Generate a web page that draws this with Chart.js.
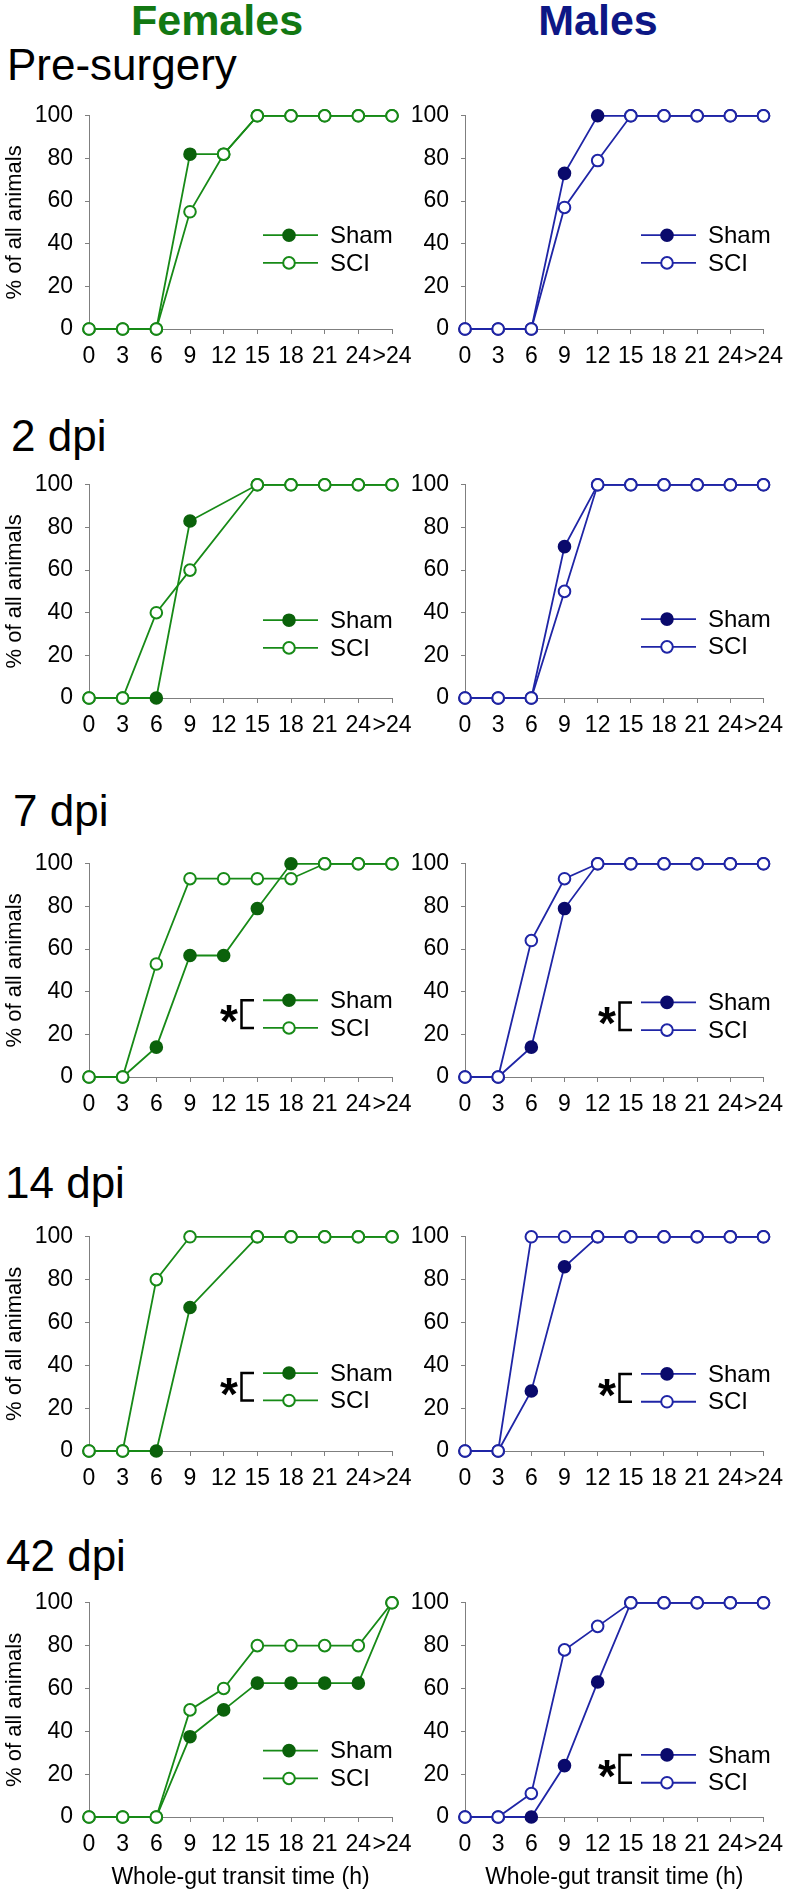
<!DOCTYPE html>
<html>
<head>
<meta charset="utf-8">
<script src="https://cdn.jsdelivr.net/npm/chart.js@4.4.1/dist/chart.umd.min.js"></script>
<style>
body { margin:0; background:#fff; width:792px; height:1894px; position:relative; overflow:hidden;
  font-family:"Liberation Sans", Arial, sans-serif; }
.head { position:absolute; top:-1px; font-size:43px; line-height:43px; font-weight:bold; white-space:nowrap; transform:translateX(-50%); }
.tp { position:absolute; font-size:44px; line-height:44px; color:#000; white-space:nowrap; }
canvas { position:absolute; }
</style>
</head>
<body>
<div class="head" style="left:217px;color:#127812">Females</div>
<div class="head" style="left:598px;color:#0d1785">Males</div>
<div id="titles"></div>

<script>
// x categories and y ticks
var hours = ['0', '3', '6', '9', '12', '15', '18', '21', '24', '>24'];
var yTicks = [0, 20, 40, 60, 80, 100];
var timepoints = ['Pre-surgery', '2 dpi', '7 dpi', '14 dpi', '42 dpi'];

// % of all animals, one row per timepoint (null = no reading at that hour)
var femaleSham = [
  [0, 0, 0, 82, 82, 100, 100, 100, 100, 100],
  [0, 0, 0, 83, null, 100, 100, 100, 100, 100],
  [0, 0, 14, 57, 57, 79, 100, 100, 100, 100],
  [0, 0, 0, 67, null, 100, 100, 100, 100, 100],
  [0, 0, 0, 37.5, 50, 62.5, 62.5, 62.5, 62.5, 100]
];
var femaleSCI = [
  [0, 0, 0, 55, 82, 100, 100, 100, 100, 100],
  [0, 0, 40, 60, null, 100, 100, 100, 100, 100],
  [0, 0, 53, 93, 93, 93, 93, 100, 100, 100],
  [0, 0, 80, 100, null, 100, 100, 100, 100, 100],
  [0, 0, 0, 50, 60, 80, 80, 80, 80, 100]
];
var maleSham = [
  [0, 0, 0, 73, 100, 100, 100, 100, 100, 100],
  [0, 0, 0, 71, 100, 100, 100, 100, 100, 100],
  [0, 0, 14, 79, 100, 100, 100, 100, 100, 100],
  [0, 0, 28, 86, 100, 100, 100, 100, 100, 100],
  [0, 0, 0, 24, 63, 100, 100, 100, 100, 100]
];
var maleSCI = [
  [0, 0, 0, 57, 79, 100, 100, 100, 100, 100],
  [0, 0, 0, 50, 100, 100, 100, 100, 100, 100],
  [0, 0, 64, 93, 100, 100, 100, 100, 100, 100],
  [0, 0, 100, 100, 100, 100, 100, 100, 100, 100],
  [0, 0, 11, 78, 89, 100, 100, 100, 100, 100]
];
var femaleSig = [false, false, true, true, false];
var maleSig = [false, false, true, true, true];

// layout (pixels)
var plotTop = [110, 479, 858, 1231, 1597];
var plotH = [219, 219, 219, 220, 220];
var titleTop = [43, 414, 789, 1161, 1534];
var titleLeft = [7, 11, 13, 5, 6];
var legendFem = [[0.44, 0.31], [0.365, 0.235], [0.36, 0.23], [0.364, 0.236], [0.31, 0.18]];
var legendMale = [[0.44, 0.31], [0.37, 0.24], [0.35, 0.22], [0.36, 0.23], [0.29, 0.16]];

var FONT = '"Liberation Sans", Arial, sans-serif';
Chart.defaults.font.family = FONT;
Chart.defaults.color = '#000';

var green = { line: '#178a17', dark: '#0b620b' };
var blue = { line: '#1f25a6', dark: '#0a0a6c' };
var axisCol = '#7f7f7f';

var legendPlugin = {
  id: 'miniLegend',
  afterDatasetsDraw: function(chart, args, o) {
    var ctx = chart.ctx, a = chart.chartArea;
    var h = a.bottom - a.top;
    var x0 = a.left + o.dx;
    var ys = a.bottom - o.pos[0] * h, yc = a.bottom - o.pos[1] * h;
    ctx.save();
    [[ys, o.col.dark, o.col.dark, 'Sham'], [yc, '#fff', o.col.line, 'SCI']].forEach(function(r) {
      ctx.strokeStyle = o.col.line;
      ctx.lineWidth = 1.8;
      ctx.beginPath(); ctx.moveTo(x0, r[0]); ctx.lineTo(x0 + 55, r[0]); ctx.stroke();
      ctx.beginPath(); ctx.arc(x0 + 26, r[0], 5.8, 0, Math.PI * 2);
      ctx.fillStyle = r[1]; ctx.fill();
      ctx.lineWidth = 2; ctx.strokeStyle = r[2]; ctx.stroke();
      ctx.fillStyle = '#000';
      ctx.font = '24px ' + FONT;
      ctx.textBaseline = 'middle';
      ctx.textAlign = 'left';
      ctx.fillText(r[3], x0 + 67, r[0] + 1);
    });
    if (o.star) {
      // bracket
      ctx.strokeStyle = '#000';
      ctx.lineWidth = 2.5;
      ctx.beginPath();
      ctx.moveTo(x0 - 9, ys); ctx.lineTo(x0 - 21.5, ys);
      ctx.lineTo(x0 - 21.5, yc); ctx.lineTo(x0 - 9, yc);
      ctx.stroke();
      // asterisk
      ctx.font = 'bold 46px ' + FONT;
      ctx.textBaseline = 'alphabetic';
      ctx.textAlign = 'center';
      var m = ctx.measureText('*');
      ctx.fillText('*', x0 - 34, (ys + yc) / 2 + m.actualBoundingBoxAscent - (m.actualBoundingBoxAscent + m.actualBoundingBoxDescent) / 2);
    }
    ctx.restore();
  }
};

function panel(row, isMale) {
  var col = isMale ? blue : green;
  var sham = isMale ? maleSham[row] : femaleSham[row];
  var sci = isMale ? maleSCI[row] : femaleSCI[row];
  var last = row === 4;
  var xH = last ? 76 : 45;
  var yW = isMale ? 65 : 89;
  var padR = isMale ? 22 : 38;
  var cv = document.createElement('canvas');
  cv.width = isMale ? 392 : 430;
  cv.height = 20 + plotH[row] + xH;
  cv.style.left = (isMale ? 400 : 0) + 'px';
  cv.style.top = (plotTop[row] - 20) + 'px';
  document.body.appendChild(cv);

  new Chart(cv, {
    type: 'line',
    data: {
      labels: hours,
      datasets: [
        { label: 'SCI', data: sci, order: 1, borderColor: col.line, backgroundColor: '#fff',
          pointBackgroundColor: '#fff', pointBorderColor: col.line, clip: false },
        { label: 'Sham', data: sham, order: 2, borderColor: col.line, backgroundColor: col.dark,
          pointBackgroundColor: col.dark, pointBorderColor: col.dark, clip: false }
      ]
    },
    options: {
      responsive: false,
      animation: false,
      spanGaps: true,
      layout: { padding: { top: 20, right: padR, left: 0, bottom: 0 } },
      elements: {
        line: { borderWidth: 1.8, tension: 0, fill: false },
        point: { radius: 5.8, hoverRadius: 5.8, borderWidth: 2 }
      },
      events: [],
      plugins: {
        legend: { display: false },
        tooltip: { enabled: false },
        miniLegend: {
          col: col,
          dx: isMale ? 176 : 174,
          pos: isMale ? legendMale[row] : legendFem[row],
          star: isMale ? maleSig[row] : femaleSig[row]
        }
      },
      scales: {
        x: {
          type: 'category',
          offset: false,
          grid: { drawOnChartArea: false, tickLength: 5, color: axisCol, lineWidth: 1 },
          border: { color: axisCol, width: 1 },
          ticks: { font: { size: 23 }, padding: 9, maxRotation: 0, autoSkip: false },
          title: { display: last, text: 'Whole-gut transit time (h)', font: { size: 23 }, padding: { top: 4, bottom: 2 } },
          afterFit: function(s) { s.height = xH; }
        },
        y: {
          min: 0, max: 100,
          afterBuildTicks: function(s) { s.ticks = yTicks.map(function(v) { return { value: v }; }); },
          grid: { drawOnChartArea: false, tickLength: 4, color: axisCol, lineWidth: 1 },
          border: { color: axisCol, width: 1 },
          ticks: { font: { size: 23 }, padding: 12 },
          title: { display: !isMale, text: '% of all animals', font: { size: 22 }, padding: { top: 2, bottom: 0 } },
          afterFit: function(s) { s.width = yW; }
        }
      }
    },
    plugins: [legendPlugin]
  });
}

var titles = document.getElementById('titles');
timepoints.forEach(function(t, i) {
  var d = document.createElement('div');
  d.className = 'tp';
  d.style.top = titleTop[i] + 'px';
  d.style.left = titleLeft[i] + 'px';
  d.textContent = t;
  titles.appendChild(d);
  panel(i, false);
  panel(i, true);
});
</script>
</body>
</html>
